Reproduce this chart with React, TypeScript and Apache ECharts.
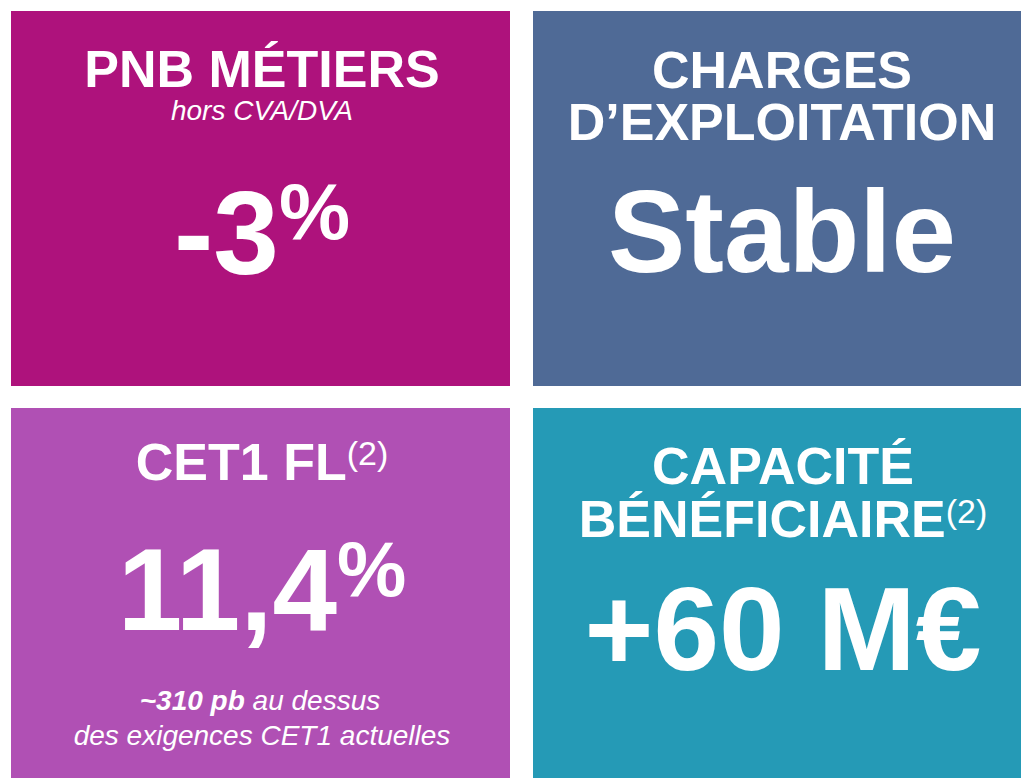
import React, { useEffect, useRef } from "react";
import * as echarts from "echarts";

// ---- content ----
const tileColors = ["#AE127C", "#4F6A96", "#B050B4", "#259AB6"];
const tileTitles = [["PNB MÉTIERS"], ["CHARGES", "D’EXPLOITATION"], ["CET1 FL"], ["CAPACITÉ", "BÉNÉFICIAIRE"]];
const titleNotes = ["", "", "(2)", "(2)"];
const tileSubtitles = ["hors CVA/DVA", "", "", ""];
const kpiValues = ["-3", "Stable", "11,4", "+60 M€"];
const kpiUnits = ["%", "", "%", ""];
const commentBold = ["", "", "~310 pb", ""];
const commentLine1 = ["", "", " au dessus", ""];
const commentLine2 = ["", "", "des exigences CET1 actuelles", ""];

// ---- layout / styles ----
const FONT = '"Liberation Sans", Arial, Helvetica, sans-serif';
const tileRects = [
  { x: 11, y: 11, w: 499, h: 375 },
  { x: 533, y: 11, w: 499, h: 375 },
  { x: 11, y: 408, w: 499, h: 380 },
  { x: 533, y: 408, w: 499, h: 380 },
];
const tileLayout = [
  { cx: 262, titleY: [69], subY: 110, valueY: 233, valueSize: 118, unitSize: 80, unitDy: -22, noteDy: 0, commentY: [] as number[] },
  { cx: 782, titleY: [70, 122], subY: 0, valueY: 232, valueSize: 116, unitSize: 80, unitDy: 0, noteDy: 0, commentY: [] as number[] },
  { cx: 262, titleY: [462], subY: 0, valueY: 590, valueSize: 116, unitSize: 78, unitDy: -21, noteDy: -9.5, commentY: [700, 735] },
  { cx: 783, titleY: [466, 519], subY: 0, valueY: 629, valueSize: 118, unitSize: 80, unitDy: 0, noteDy: -8, commentY: [] as number[] },
];
const TITLE_SIZE = 52;
const NOTE_SIZE = 34;
const SUB_SIZE = 28;

type Seg = { text: string; size: number; weight: string; style: string; dy: number };

let ctx: CanvasRenderingContext2D | null = null;
function measure(s: Seg): number {
  if (!ctx) ctx = document.createElement("canvas").getContext("2d");
  if (!ctx) return s.text.length * s.size * 0.55;
  ctx.font = `${s.style} ${s.weight} ${s.size}px ${FONT}`;
  return ctx.measureText(s.text).width;
}

function lineEls(segs: Seg[], cx: number, cy: number): any[] {
  const parts = segs.filter((s) => s.text);
  const widths = parts.map(measure);
  const total = widths.reduce((a, b) => a + b, 0);
  let x = cx - total / 2;
  return parts.map((s, i) => {
    const el = {
      type: "text",
      x,
      y: cy + s.dy,
      silent: true,
      style: {
        text: s.text,
        fontSize: s.size,
        fontWeight: s.weight,
        fontStyle: s.style,
        fontFamily: FONT,
        lineHeight: Math.round(s.size * 0.8),
        fill: "#ffffff",
        align: "left",
        verticalAlign: "middle",
      },
    };
    x += widths[i];
    return el;
  });
}

function buildGraphics(): any[] {
  const els: any[] = [];
  tileRects.forEach((r, i) => {
    els.push({
      type: "rect",
      shape: { x: r.x, y: r.y, width: r.w, height: r.h },
      style: { fill: tileColors[i] },
      silent: true,
    });
  });
  tileRects.forEach((_r, i) => {
    const L = tileLayout[i];
    const titles = tileTitles[i];
    titles.forEach((t, j) => {
      const segs: Seg[] = [{ text: t, size: TITLE_SIZE, weight: "bold", style: "normal", dy: 0 }];
      if (j === titles.length - 1 && titleNotes[i]) {
        segs.push({ text: titleNotes[i], size: NOTE_SIZE, weight: "normal", style: "normal", dy: L.noteDy });
      }
      els.push(...lineEls(segs, L.cx, L.titleY[j]));
    });
    if (tileSubtitles[i]) {
      els.push(...lineEls([{ text: tileSubtitles[i], size: SUB_SIZE, weight: "normal", style: "italic", dy: 0 }], L.cx, L.subY));
    }
    const vsegs: Seg[] = [{ text: kpiValues[i], size: L.valueSize, weight: "bold", style: "normal", dy: 0 }];
    if (kpiUnits[i]) vsegs.push({ text: kpiUnits[i], size: L.unitSize, weight: "bold", style: "normal", dy: L.unitDy });
    els.push(...lineEls(vsegs, L.cx, L.valueY));
    if (L.commentY.length) {
      els.push(
        ...lineEls(
          [
            { text: commentBold[i], size: SUB_SIZE, weight: "bold", style: "italic", dy: 0 },
            { text: commentLine1[i], size: SUB_SIZE, weight: "normal", style: "italic", dy: 0 },
          ],
          L.cx - 2,
          L.commentY[0]
        )
      );
      els.push(...lineEls([{ text: commentLine2[i], size: SUB_SIZE, weight: "normal", style: "italic", dy: 0 }], L.cx, L.commentY[1]));
    }
  });
  return els;
}

export default function App() {
  const ref = useRef<HTMLDivElement>(null);
  useEffect(() => {
    if (!ref.current) return;
    const chart = echarts.init(ref.current, null, { renderer: "svg" });
    chart.setOption({
      animation: false,
      backgroundColor: "#ffffff",
      graphic: { elements: buildGraphics() },
    });
    return () => chart.dispose();
  }, []);
  return (
    <div
      ref={ref}
      style={{ position: "absolute", left: 0, top: 0, width: 1021, height: 778, overflow: "hidden" }}
    />
  );
}
